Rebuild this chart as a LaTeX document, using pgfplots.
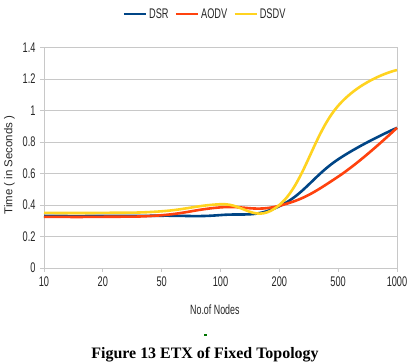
\documentclass[border=0pt]{standalone}
\usepackage{fontspec}
\setmainfont[FakeStretch=0.66]{Liberation Sans}
\newfontfamily\widesans{Liberation Sans}
\newfontfamily\capfont{Liberation Serif}
\usepackage{pgfplots}
\pgfplotsset{compat=1.18}

\definecolor{dsr}{HTML}{004586}
\definecolor{aodv}{HTML}{FF420E}
\definecolor{dsdv}{HTML}{FFD320}
\definecolor{gridgray}{HTML}{C8C8C8}

\begin{document}
\begin{tikzpicture}[x=1bp,y=1bp]
\useasboundingbox (0,0) rectangle (407,362);
\begin{axis}[
  at={(44bp,94bp)}, anchor=south west,
  width=353bp, height=220.5bp, scale only axis,
  xmin=0, xmax=6, ymin=0, ymax=1.4,
  xtick={0,...,6},
  xticklabels={10,20,50,100,200,500,1000},
  ytick={0,0.2,...,1.4},
  yticklabels={0,0.2,0.4,0.6,0.8,1,1.2,1.4},
  ymajorgrids, grid style={gridgray, line width=0.8bp},
  axis line style={gridgray, line width=0.8bp},
  tick style={gridgray, line width=0.8bp},
  major tick length=4bp,
  tick align=outside, xtick pos=bottom, ytick pos=left,
  tick label style={font=\fontsize{14}{14}\selectfont, text=black!85},
  xticklabel style={yshift=-1bp},
  yticklabel style={xshift=-1bp},
  xlabel={No.of Nodes},
  xlabel style={font=\fontsize{13.5}{13.5}\selectfont, text=black!85,
    at={(axis description cs:0.484,-0.19)}, anchor=center},
  ylabel={Time ( in Seconds )},
  ylabel style={font=\widesans\fontsize{11.5}{11.5}\selectfont, text=black!85,
    at={(axis description cs:-0.098,0.467)}, anchor=center, rotate=0},
  legend style={at={(axis description cs:0.456,1.152)}, anchor=center,
    draw=none, fill=none, legend columns=-1,
    font=\fontsize{14}{14}\selectfont, text=black!85,
    /tikz/every even column/.append style={column sep=4bp}},
  legend image code/.code={\draw[#1] (0bp,0bp) -- (22bp,0bp);},
  clip=false,
]
\addplot[dsr, line width=2.6bp, smooth, tension=0.75]
  coordinates {(0,0.330) (1,0.330) (2,0.332) (3,0.336) (4,0.392) (5,0.690) (6,0.890)};
\addplot[aodv, line width=2.6bp, smooth, tension=0.75]
  coordinates {(0,0.325) (1,0.325) (2,0.335) (3,0.385) (4,0.395) (5,0.580) (6,0.890)};
\addplot[dsdv, line width=2.6bp, smooth, tension=0.75]
  coordinates {(0,0.350) (1,0.350) (2,0.360) (3,0.405) (4,0.400) (5,1.030) (6,1.257)};
\legend{DSR,AODV,DSDV}
\end{axis}
\fill[green!45!black] (203.5,26) rectangle (206.5,28);
\node[font=\capfont\bfseries\fontsize{16}{16}\selectfont, anchor=base] at (205,4) {Figure 13 ETX of Fixed Topology};
\end{tikzpicture}
\end{document}
